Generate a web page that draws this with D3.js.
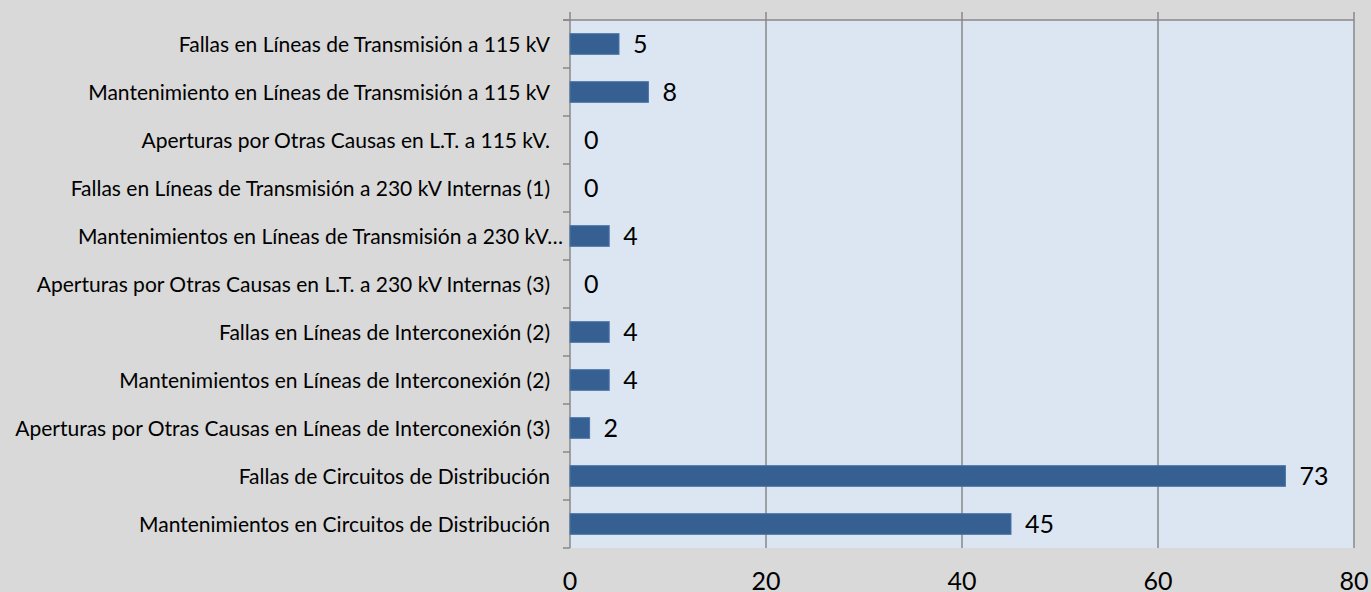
<!DOCTYPE html>
<html>
<head>
<meta charset="utf-8">
<script src="https://cdn.jsdelivr.net/npm/d3@7"></script>
<style>
  body { margin: 0; background: #d9d9d9; }
  #chart text { font-family: Lato, "Open Sans", sans-serif; fill: #000; }
</style>
</head>
<body>
<div id="chart"></div>
<script>
// Data
const categories = [
  "Fallas en Líneas de Transmisión a 115 kV",
  "Mantenimiento en Líneas de Transmisión a 115 kV",
  "Aperturas por Otras Causas en L.T. a 115 kV.",
  "Fallas en Líneas de Transmisión a 230 kV Internas (1)",
  "Mantenimientos en Líneas de Transmisión a 230 kV…",
  "Aperturas por Otras Causas en L.T. a 230 kV Internas (3)",
  "Fallas en Líneas de Interconexión (2)",
  "Mantenimientos en Líneas de Interconexión (2)",
  "Aperturas por Otras Causas en Líneas de Interconexión (3)",
  "Fallas de Circuitos de Distribución",
  "Mantenimientos en Circuitos de Distribución"
];
const values = [5, 8, 0, 0, 4, 0, 4, 4, 2, 73, 45];
const xTicks = [0, 20, 40, 60, 80];

const width = 1371;
const height = 592;
const plot = { left: 570, right: 1354, top: 20, bottom: 548 };

const svg = d3.select("#chart")
  .append("svg")
  .attr("width", width)
  .attr("height", height);

svg.append("rect")
  .attr("width", width)
  .attr("height", height)
  .attr("fill", "#d9d9d9");

const x = d3.scaleLinear().domain([0, 80]).range([plot.left, plot.right]);
const y = d3.scaleBand()
  .domain(categories)
  .range([plot.top, plot.bottom])
  .paddingInner(0.57)
  .paddingOuter(0.285);

// Plot area
svg.append("rect")
  .attr("x", plot.left)
  .attr("y", plot.top)
  .attr("width", plot.right - plot.left)
  .attr("height", plot.bottom - plot.top)
  .attr("fill", "#dce6f2");

const lineColor = "#898989";

// Gridlines (run a bit above the plot like the original)
svg.selectAll(".grid")
  .data(xTicks)
  .enter()
  .append("line")
  .attr("x1", d => x(d))
  .attr("x2", d => x(d))
  .attr("y1", plot.top - 8)
  .attr("y2", plot.bottom)
  .attr("stroke", lineColor)
  .attr("stroke-width", 1.5);

// Top border
svg.append("line")
  .attr("x1", plot.left - 7)
  .attr("x2", plot.right)
  .attr("y1", plot.top)
  .attr("y2", plot.top)
  .attr("stroke", lineColor)
  .attr("stroke-width", 1.5);

// Category axis ticks at band edges
const step = y.step();
const edges = d3.range(categories.length + 1).map(i => plot.top + i * step);
svg.selectAll(".ytick")
  .data(edges)
  .enter()
  .append("line")
  .attr("x1", plot.left - 7)
  .attr("x2", plot.left)
  .attr("y1", d => d)
  .attr("y2", d => d)
  .attr("stroke", lineColor)
  .attr("stroke-width", 1.5);

// Bars
svg.selectAll(".bar")
  .data(values)
  .enter()
  .append("rect")
  .attr("x", x(0))
  .attr("y", (d, i) => y(categories[i]))
  .attr("width", d => x(d) - x(0))
  .attr("height", y.bandwidth())
  .attr("fill", d => d > 0 ? "#376092" : "none")
  .attr("stroke", d => d > 0 ? "#4a74a8" : "none")
  .attr("stroke-width", 1);

// Value labels
svg.selectAll(".val")
  .data(values)
  .enter()
  .append("text")
  .attr("x", d => x(d) + 14)
  .attr("y", (d, i) => y(categories[i]) + y.bandwidth() / 2)
  .attr("dy", "0.36em")
  .style("font-size", "25px")
  .text(d => d);

// Category labels
svg.selectAll(".cat")
  .data(categories)
  .enter()
  .append("text")
  .attr("x", d => d.endsWith("…") ? 563 : 550)
  .attr("y", d => y(d) + y.bandwidth() / 2)
  .attr("dy", "0.36em")
  .attr("text-anchor", "end")
  .style("font-size", "21px")
  .text(d => d);

// X tick labels
svg.selectAll(".xlab")
  .data(xTicks)
  .enter()
  .append("text")
  .attr("x", d => x(d))
  .attr("y", 590)
  .attr("text-anchor", "middle")
  .style("font-size", "25px")
  .text(d => d);
</script>
</body>
</html>
